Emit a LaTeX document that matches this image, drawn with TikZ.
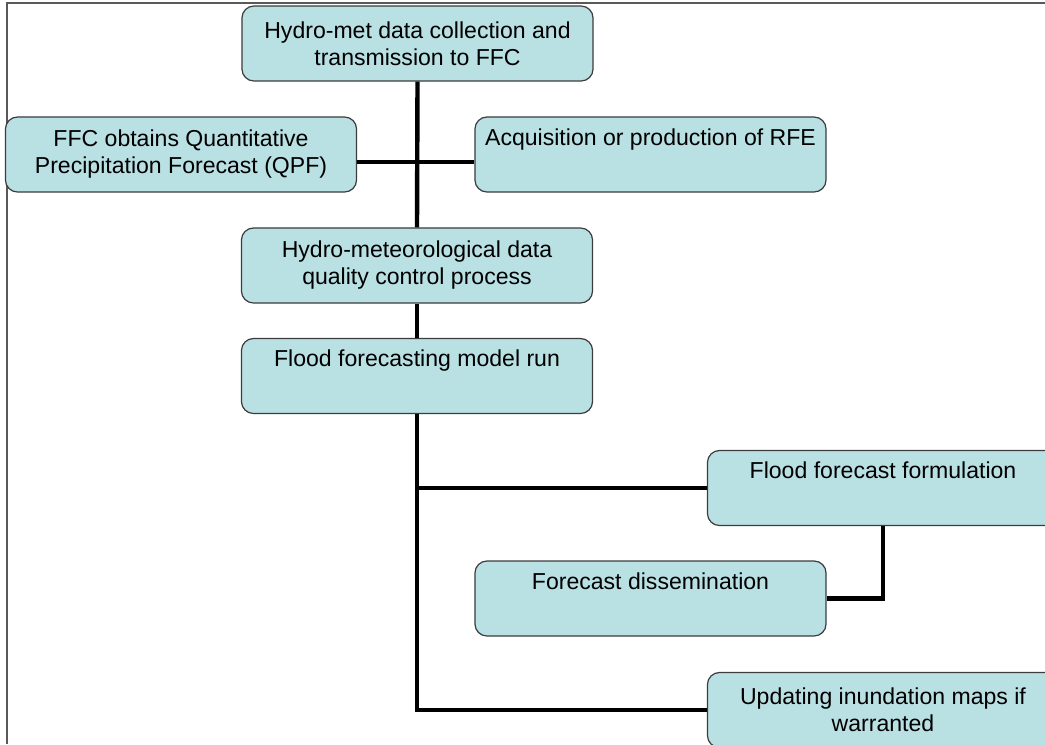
\documentclass[tikz,border=0pt]{standalone}
\usepackage{fontspec}
\setmainfont{Liberation Sans}
\usepackage{tikz}
\definecolor{boxfill}{RGB}{185,224,227}
\definecolor{boxline}{RGB}{60,60,60}
\tikzset{
    stage/.style={draw=boxline, line width=0.03cm, fill=boxfill, rounded corners=0.3cm, minimum width=8.775cm, minimum height=1.875cm, align=center, inner sep=0pt, font=\fontsize{16.4}{19.2}\selectfont},
    link/.style={line width=0.11cm, black},
    frame/.style={line width=0.05cm, black!65}
}

\begin{document}
\begin{tikzpicture}[x=0.025cm, y=-0.025cm]
\useasboundingbox (0,0) rectangle (1045,744);
\clip (0,0) rectangle (1045,744);
\draw[frame] (7,744) -- (7,3) -- (1045,3);
\foreach \x/\y/\p/\labeltext in {417.5/43.5/collect/{Hydro-met data collection and\\transmission to FFC}, 181/154.5/qpf/{FFC obtains Quantitative\\Precipitation Forecast (QPF)}, 650.5/154.5/rfe/{Acquisition or production of RFE\\\strut}, 417/265.5/quality/{Hydro-meteorological data\\quality control process}, 417/376/model/{Flood forecasting model run\\\strut}, 883/488/formulate/{Flood forecast formulation\\\strut}, 650.5/598.5/dissem/{Forecast dissemination\\\strut}, 883/710/update/{Updating inundation maps if\\warranted}}{
    \node[stage] (\p) at (\x,\y) {\labeltext};
}
\coordinate (join) at (417,162);
\draw[link] (collect.south) -- (quality.north);
\draw[link] (qpf.east |- join) -- (rfe.west |- join);
\draw[link] (quality.south) -- (model.north);
\draw[link] (model.south) |- (update.west);
\draw[link] (model.south |- formulate.west) -- (formulate.west);
\draw[link] (formulate.south) |- (dissem.east);
\end{tikzpicture}
\end{document}
